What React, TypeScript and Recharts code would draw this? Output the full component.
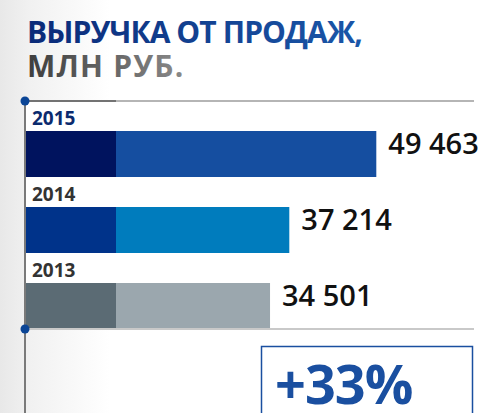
import { BarChart, Bar, XAxis, YAxis, LabelList, Rectangle } from 'recharts';

const years = ['2015', '2014', '2013'];
const revenue = [49463, 37214, 34501];
const barColors = ['#154ea0', '#007cbd', '#9ba7ae'];
const accentColors = ['#00135e', '#00338a', '#5b6b74'];
const yearColors = ['#0b2b6e', '#333333', '#333333'];
const growthLabel = '+33%';

const data = years.map((year, i) => ({ year, value: revenue[i] }));

const fmt = (n: number) => String(n).replace(/\B(?=(\d{3})+(?!\d))/g, ' ');
const FONT = '"Open Sans", sans-serif';

function SplitBar(props: any) {
  const { x, y, width, height, index } = props;
  return (
    <g>
      <Rectangle x={x} y={y} width={width} height={height} fill={barColors[index]} />
      <Rectangle x={x} y={y} width={Math.min(91, width)} height={height} fill={accentColors[index]} />
    </g>
  );
}

function YearLabel(props: any) {
  const { x, y, index } = props;
  return (
    <text x={x + 7} y={y - 6} fill={yearColors[index]} fontFamily={FONT} fontWeight={700} fontSize={19}>
      {years[index]}
    </text>
  );
}

function ValueLabel(props: any) {
  const { x, y, width, value } = props;
  return (
    <text x={x + width + 12} y={y + 23} fill="#111" fontFamily={FONT} fontWeight={600} fontSize={29}>
      {fmt(value)}
    </text>
  );
}

export default function App() {
  return (
    <div style={{ position: 'absolute', left: 0, top: 0, width: 488, height: 413, overflow: 'hidden', background: 'linear-gradient(to right, #e8e8e8 0px, #f1f1f1 30px, #ffffff 110px)' }}>
      <svg width={488} height={413} style={{ position: 'absolute', left: 0, top: 0 }}>
        <defs>
          <linearGradient id="t1" x1="0" x2="1" y1="0" y2="0">
            <stop offset="0" stopColor="#0a2a78" />
            <stop offset="1" stopColor="#1a57a9" />
          </linearGradient>
          <linearGradient id="t2" x1="0" x2="1" y1="0" y2="0">
            <stop offset="0" stopColor="#3d3d3d" />
            <stop offset="1" stopColor="#8a8a8a" />
          </linearGradient>
        </defs>
        <rect x={25} y={101} width={451} height={228} fill="#fff" />
        <text x={27} y={43} fill="url(#t1)" fontFamily={FONT} fontWeight={700} fontSize={30} letterSpacing={-0.9}>ВЫРУЧКА ОТ ПРОДАЖ,</text>
        <text x={27} y={77} fill="url(#t2)" fontFamily={FONT} fontWeight={700} fontSize={30} letterSpacing={1.2}>МЛН РУБ.</text>
      </svg>
      <div style={{ position: 'absolute', left: 0, top: 0 }}>
        <BarChart width={488} height={413} data={data} layout="vertical" margin={{ top: 116, right: 12, bottom: 69, left: 25 }} barSize={46}>
          <XAxis type="number" domain={[0, 63500]} hide />
          <YAxis type="category" dataKey="year" hide />
          <Bar dataKey="value" isAnimationActive={false} shape={<SplitBar />}>
            <LabelList dataKey="year" content={<YearLabel />} />
            <LabelList dataKey="value" content={<ValueLabel />} />
          </Bar>
        </BarChart>
      </div>
      <svg width={488} height={413} style={{ position: 'absolute', left: 0, top: 0, pointerEvents: 'none' }}>
        <line x1={25} y1={101} x2={116} y2={101} stroke="#737373" strokeWidth={2} />
        <line x1={116} y1={101} x2={474} y2={101} stroke="#b5b5b5" strokeWidth={2} />
        <line x1={25} y1={329} x2={474} y2={329} stroke="#c9c9c9" strokeWidth={2} />
        <line x1={25} y1={101} x2={25} y2={413} stroke="#7a7a7a" strokeWidth={2} />
        <circle cx={25} cy={101} r={4.5} fill="#0b4596" />
        <circle cx={25} cy={329} r={4.5} fill="#0b4596" />
        <rect x={261.5} y={346.5} width={211} height={80} fill="#fff" stroke="#1a4fa0" strokeWidth={1.5} />
        <text x={275} y={404} fill="#1a4fa0" fontFamily={FONT} fontWeight={700} fontSize={54} letterSpacing={-1}>{growthLabel}</text>
      </svg>
    </div>
  );
}
